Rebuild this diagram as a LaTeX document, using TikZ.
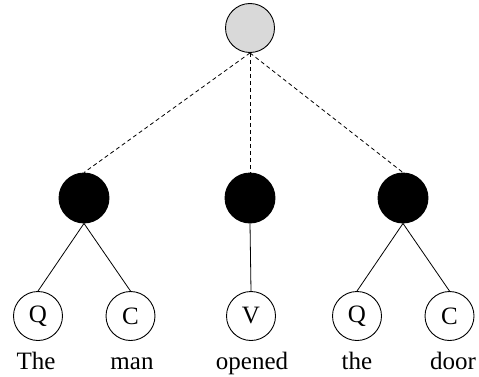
\documentclass[tikz,border=0pt]{standalone}
\usepackage{fontspec}
\setmainfont{Liberation Serif}
\begin{document}
\begin{tikzpicture}[x=1pt,y=1pt,
  root/.style={circle,draw,line width=0.9pt,fill=black!15,minimum size=49pt,inner sep=0pt},
  inner/.style={circle,draw,fill=black,line width=0.9pt,minimum size=50pt,inner sep=0pt},
  leaf/.style={circle,draw,line width=0.9pt,minimum size=49pt,inner sep=0pt,font=\fontsize{25}{28}\selectfont},
  word/.style={anchor=base,inner sep=0pt,font=\fontsize{25}{28}\selectfont},
  link/.style={line width=0.8pt},
  dlink/.style={line width=0.8pt,dash pattern=on 4pt off 3pt}]
\useasboundingbox (0,0) rectangle (479,376);
% root
\node[root] (r) at (250,348) {};
% phrase nodes
\node[inner] (n1) at (84,178) {};
\node[inner] (n2) at (250,178) {};
\node[inner] (n3) at (403,178) {};
% leaves
\node[leaf] (q1) at (38,60) {Q};
\node[leaf] (c1) at (130.5,60) {C};
\node[leaf] (v) at (251,60) {V};
\node[leaf] (q2) at (357,60) {Q};
\node[leaf] (c2) at (449.5,60) {C};
% words
\node[word] (w1) at (36,7) {The};
\node[word] (w2) at (132,7) {man};
\node[word] (w3) at (252,7) {opened};
\node[word] (w4) at (357,7) {the};
\node[word] (w5) at (453,7) {door};
% dashed links from the root
\draw[dlink] (r.south) -- (n1.north);
\draw[dlink] (r.south) -- (n2.north);
\draw[dlink] (r.south) -- (n3.north);
% solid links to the leaves
\draw[link] (n1.south) -- (q1.north);
\draw[link] (n1.south) -- (c1.north);
\draw[link] (n2.south) -- (v.north);
\draw[link] (n3.south) -- (q2.north);
\draw[link] (n3.south) -- (c2.north);
\end{tikzpicture}
\end{document}
